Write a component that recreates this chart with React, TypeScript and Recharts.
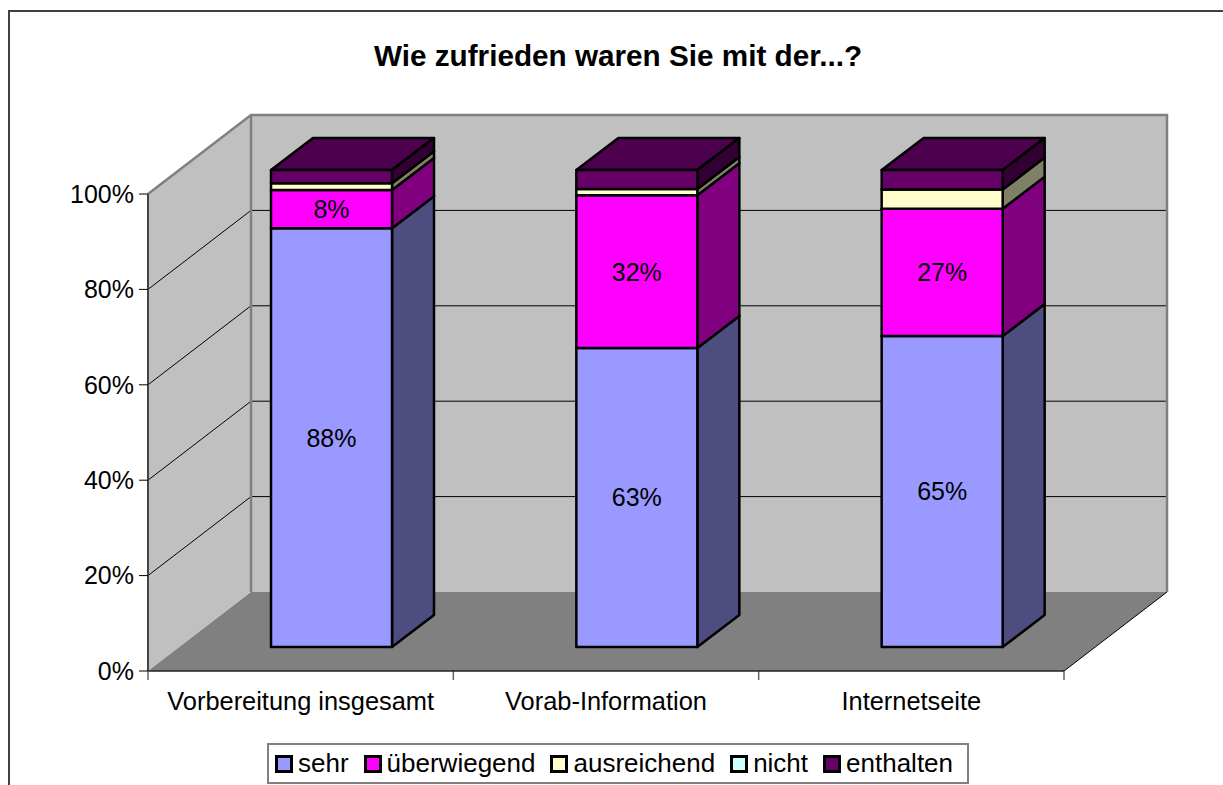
import { Bar, BarChart, LabelList, Legend, XAxis, YAxis, usePlotArea } from 'recharts'

const categories = ['Vorbereitung insgesamt', 'Vorab-Information', 'Internetseite']
const sehr = [0.878, 0.627, 0.652]
const ueberwiegend = [0.08, 0.32, 0.267]
const ausreichend = [0.014, 0.013, 0.04]
const nicht = [0, 0, 0]
const enthalten = [0.028, 0.04, 0.041]
const yTicks = [0, 0.2, 0.4, 0.6, 0.8, 1]

const rows = categories.map((name, i) => ({
  name,
  sehr: sehr[i],
  ueberwiegend: ueberwiegend[i],
  ausreichend: ausreichend[i],
  nicht: nicht[i],
  enthalten: enthalten[i],
}))

const FONT = "'Liberation Sans', Arial, sans-serif"

// 3D projection of the old Excel chart: depth of the box, and of one bar
const WALL_DX = 103
const WALL_DY = -79
const BAR_SHIFT_X = 31
const BAR_SHIFT_Y = -24
const BAR_DX = 42
const BAR_DY = -32

const pct = (v: number) => `${Math.round(v * 100)}%`
const poly = (pts: number[][]) => pts.map((p) => p.join(',')).join(' ')

function Walls() {
  const plot = usePlotArea()
  if (!plot) return null
  const { x, y, width, height } = plot
  const right = x + width
  const bottom = y + height
  const bandW = width / categories.length
  return (
    <g>
      <polygon
        points={poly([[x, bottom], [x, y], [x + WALL_DX, y + WALL_DY], [x + WALL_DX, bottom + WALL_DY]])}
        fill="#c0c0c0"
      />
      <rect x={x + WALL_DX} y={y + WALL_DY} width={width} height={height} fill="#c0c0c0" />
      {yTicks.slice(1, -1).map((t) => {
        const ty = bottom - t * height
        return (
          <polyline
            key={t}
            points={poly([[x, ty], [x + WALL_DX, ty + WALL_DY], [right + WALL_DX, ty + WALL_DY]])}
            fill="none"
            stroke="#000"
            strokeWidth={1}
          />
        )
      })}
      <polyline
        points={poly([[x, y], [x + WALL_DX, y + WALL_DY], [right + WALL_DX, y + WALL_DY], [right + WALL_DX, bottom + WALL_DY]])}
        fill="none"
        stroke="#808080"
        strokeWidth={2.5}
      />
      <line x1={x + WALL_DX} y1={y + WALL_DY} x2={x + WALL_DX} y2={bottom + WALL_DY} stroke="#808080" strokeWidth={2.5} />
      <polygon
        points={poly([[x, bottom], [x + WALL_DX, bottom + WALL_DY], [right + WALL_DX, bottom + WALL_DY], [right, bottom]])}
        fill="#808080"
      />
      <line x1={right} y1={bottom} x2={right + WALL_DX} y2={bottom + WALL_DY} stroke="#000" strokeWidth={1} />
      {categories.map((_, i) => (
        <line
          key={i}
          x1={x + bandW * (i + 1)}
          y1={bottom}
          x2={x + bandW * (i + 1)}
          y2={bottom + 9}
          stroke="#666"
          strokeWidth={1.5}
        />
      ))}
      <line x1={x} y1={bottom} x2={x} y2={bottom + 9} stroke="#666" strokeWidth={1.5} />
    </g>
  )
}

function box(sideFill: string, topFill: string) {
  return (props: any) => {
    const { x, y, width, height, fill } = props
    if (!height || height < 0.5) return null
    const l = x + BAR_SHIFT_X
    const r = l + width
    const t = y + BAR_SHIFT_Y
    const b = t + height
    return (
      <g stroke="#000" strokeWidth={2.5} strokeLinejoin="round">
        <polygon points={poly([[l, t], [l + BAR_DX, t + BAR_DY], [r + BAR_DX, t + BAR_DY], [r, t]])} fill={topFill} />
        <polygon points={poly([[r, t], [r + BAR_DX, t + BAR_DY], [r + BAR_DX, b + BAR_DY], [r, b]])} fill={sideFill} />
        <rect x={l} y={t} width={width} height={height} fill={fill} />
      </g>
    )
  }
}

const barLabel = (props: any) => {
  const { x, y, width, height, value } = props
  return (
    <text
      x={x + width / 2 + BAR_SHIFT_X}
      y={y + height / 2 + BAR_SHIFT_Y}
      textAnchor="middle"
      dominantBaseline="central"
      fontFamily={FONT}
      fontSize={25}
      fill="#000"
    >
      {pct(value)}
    </text>
  )
}

const renderLegend = (props: any) => (
  <div
    style={{
      display: 'flex',
      alignItems: 'center',
      boxSizing: 'border-box',
      height: 41,
      paddingLeft: 6,
      background: '#fff',
      border: '2px solid #808080',
      fontFamily: FONT,
      fontSize: 26,
      color: '#000',
    }}
  >
    {props.payload.map((p: any) => (
      <span key={p.value} style={{ display: 'inline-flex', alignItems: 'center', marginRight: 15 }}>
        <span
          style={{
            boxSizing: 'border-box',
            width: 18,
            height: 18,
            border: '3px solid #000',
            background: p.color,
            marginRight: 5,
          }}
        />
        {p.value}
      </span>
    ))}
  </div>
)

export default function App() {
  return (
    <div style={{ position: 'absolute', left: 0, top: 0, width: 1223, height: 785, overflow: 'hidden', background: '#fff' }}>
      {/* chart frame runs off the right and bottom of the page */}
      <div
        style={{
          position: 'absolute',
          left: 8,
          top: 10,
          width: 1300,
          height: 900,
          border: '2px solid #404040',
        }}
      />
      <div
        style={{
          position: 'absolute',
          top: 39,
          left: 0,
          width: 1236,
          textAlign: 'center',
          fontFamily: FONT,
          fontWeight: 700,
          fontSize: 29.7,
        }}
      >
        Wie zufrieden waren Sie mit der...?
      </div>
      <BarChart
        width={1223}
        height={785}
        data={rows}
        stackOffset="none"
        barSize={121}
        margin={{ top: 194, right: 159, bottom: 33, left: 88 }}
        style={{ position: 'absolute', left: 0, top: 0 }}
      >
        <Walls />
        <XAxis
          dataKey="name"
          tickLine={false}
          axisLine={{ stroke: '#222', strokeWidth: 1.5 }}
          interval={0}
          height={40}
          tickMargin={15}
          tick={{ fontFamily: FONT, fontSize: 25.4, fill: '#000' }}
        />
        <YAxis
          type="number"
          domain={[0, 1]}
          ticks={yTicks}
          tickFormatter={pct}
          width={60}
          axisLine={{ stroke: '#444', strokeWidth: 2 }}
          tickLine={{ stroke: '#000' }}
          tickSize={9}
          tickMargin={5}
          tick={{ fontFamily: FONT, fontSize: 25, fill: '#000' }}
        />
        <Legend
          content={renderLegend}
          itemSorter={null}
          wrapperStyle={{ position: 'absolute', left: 267, top: 743, width: 702, height: 41 }}
        />
        <Bar dataKey="sehr" name="sehr" stackId="a" fill="#9999ff" isAnimationActive={false} shape={box('#4d4d80', '#4d4d80')}>
          <LabelList dataKey="sehr" content={barLabel} />
        </Bar>
        <Bar dataKey="ueberwiegend" name="überwiegend" stackId="a" fill="#ff00ff" isAnimationActive={false} shape={box('#800080', '#800080')}>
          <LabelList dataKey="ueberwiegend" content={barLabel} />
        </Bar>
        <Bar dataKey="ausreichend" name="ausreichend" stackId="a" fill="#ffffcc" isAnimationActive={false} shape={box('#808066', '#808066')} />
        <Bar dataKey="nicht" name="nicht" stackId="a" fill="#ccffff" isAnimationActive={false} shape={box('#668080', '#668080')} />
        <Bar dataKey="enthalten" name="enthalten" stackId="a" fill="#660066" isAnimationActive={false} shape={box('#330033', '#4d004d')} />
      </BarChart>
    </div>
  )
}
